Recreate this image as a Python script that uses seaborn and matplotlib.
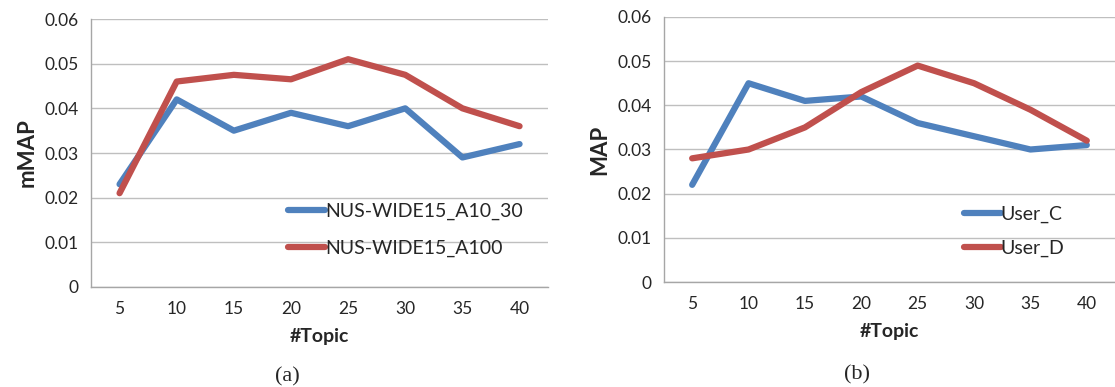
import numpy as np
import pandas as pd
import matplotlib
matplotlib.use("Agg")
import matplotlib.pyplot as plt
import seaborn as sns

# values
topics = [5, 10, 15, 20, 25, 30, 35, 40]

nus_a10_30 = [0.023, 0.042, 0.035, 0.039, 0.036, 0.040, 0.029, 0.032]
nus_a100 = [0.021, 0.046, 0.0475, 0.0465, 0.051, 0.0475, 0.040, 0.036]

user_c = [0.022, 0.045, 0.041, 0.042, 0.036, 0.033, 0.030, 0.031]
user_d = [0.028, 0.030, 0.035, 0.043, 0.049, 0.045, 0.039, 0.032]

y_ticks = [0, 0.01, 0.02, 0.03, 0.04, 0.05, 0.06]
y_tick_labels = ["0", "0.01", "0.02", "0.03", "0.04", "0.05", "0.06"]

BLUE = "#4F81BD"
RED = "#C0504D"


def long_form(names, series):
    frames = []
    for name, vals in zip(names, series):
        frames.append(pd.DataFrame({"topic": topics, "value": vals, "series": name}))
    return pd.concat(frames, ignore_index=True)


def style_axis(ax, ylabel, legend_anchor, spacing):
    ax.set_xlim(2.5, 42.5)
    ax.set_ylim(0, 0.06)
    ax.set_xticks(topics)
    ax.set_xticks(np.arange(2.5, 43, 5), minor=True)
    ax.tick_params(axis="x", which="major", length=0, pad=10, labelsize=12.5)
    ax.tick_params(axis="x", which="minor", length=5, color="#A6A6A6", direction="out")
    ax.set_yticks(y_ticks)
    ax.set_yticklabels(y_tick_labels)
    ax.tick_params(axis="y", length=5, color="#A6A6A6", labelsize=12.5, pad=4)
    ax.grid(axis="y", color="#BFBFBF", linewidth=1.0)
    ax.grid(axis="x", visible=False)
    ax.set_axisbelow(True)
    for side in ["top", "right"]:
        ax.spines[side].set_visible(False)
    for side in ["left", "bottom"]:
        ax.spines[side].set_color("#A6A6A6")
        ax.spines[side].set_linewidth(1.0)
    ax.set_xlabel("#Topic", fontweight="bold", fontsize=14, labelpad=8)
    ax.set_ylabel(ylabel, fontweight="bold", fontsize=16, labelpad=5)
    leg = ax.legend(loc="center left", bbox_to_anchor=legend_anchor, frameon=False,
                    fontsize=14, handlelength=1.9, handletextpad=0.0,
                    labelspacing=spacing, borderaxespad=0, borderpad=0)
    for line in leg.get_lines():
        line.set_linewidth(4.5)


sns.set_style("white")
plt.rcParams["font.family"] = ["Lato", "DejaVu Sans"]

fig = plt.figure(figsize=(11.15, 3.87), dpi=100)
ax1 = fig.add_axes([0.0816, 0.2584, 0.41, 0.6925])
ax2 = fig.add_axes([0.5955, 0.2713, 0.4045, 0.6848])

df_a = long_form(["NUS-WIDE15_A10_30", "NUS-WIDE15_A100"], [nus_a10_30, nus_a100])
sns.lineplot(data=df_a, x="topic", y="value", hue="series", palette=[BLUE, RED],
             linewidth=4.5, ax=ax1)
style_axis(ax1, "mMAP", (0.431, 0.213), 1.05)

df_b = long_form(["User_C", "User_D"], [user_c, user_d])
sns.lineplot(data=df_b, x="topic", y="value", hue="series", palette=[BLUE, RED],
             linewidth=4.5, ax=ax2)
style_axis(ax2, "MAP", (0.665, 0.19), 0.85)

fig.text(0.2575, 0.027, "(a)", ha="center", va="center", fontsize=16,
         family=["Liberation Serif", "DejaVu Serif"])
fig.text(0.7685, 0.032, "(b)", ha="center", va="center", fontsize=16,
         family=["Liberation Serif", "DejaVu Serif"])

fig.savefig("out.png", dpi=100)
